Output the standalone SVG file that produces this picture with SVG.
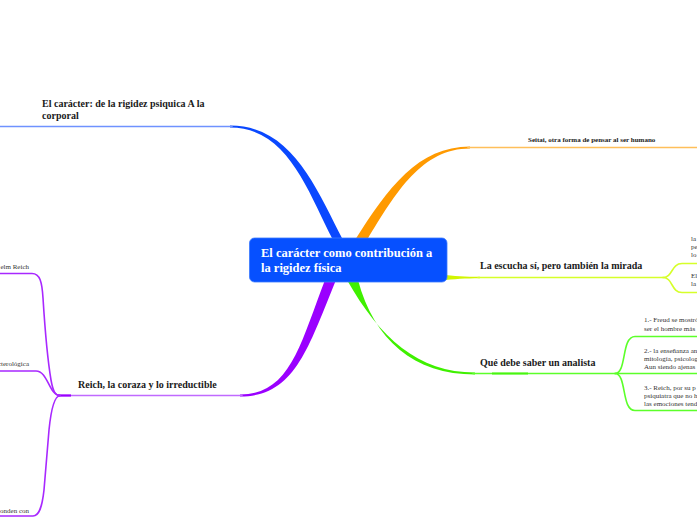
<svg xmlns="http://www.w3.org/2000/svg" width="697" height="520" viewBox="0 0 697 520">
<style>
.lbl{font-family:"Liberation Serif","Times New Roman",serif;font-weight:bold;font-size:10px;fill:#1a1a1a}
.sm{font-family:"Liberation Serif","Times New Roman",serif;font-size:7px;fill:#333}
.smb{font-family:"Liberation Serif","Times New Roman",serif;font-weight:bold;font-size:7px;fill:#1a1a1a}
.ctr{font-family:"Liberation Serif","Times New Roman",serif;font-weight:bold;font-size:12.5px;fill:#fff}
.thin{fill:none;stroke-width:1.6;stroke-linecap:round}
</style>
<rect width="697" height="520" fill="#fff"/>
<g id="connectors">
  <!-- blue -->
  <path d="M230 125.5 C292 125.5 316 188 343 240 L333 240 C308 192 288 127.5 230 127.5 Z" fill="#0a48ff"/>
  <path class="thin" d="M0 126.5 H232" stroke="#6f92ff"/>
  <!-- orange -->
  <path d="M470 146.5 C418 146.5 388 188 355 240 L367 240 C396 192 422 148.5 470 148.5 Z" fill="#ff9a00"/>
  <path class="thin" d="M468 147.5 H697" stroke="#ffbf5a"/>
  <!-- yellow -->
  <path d="M440 274.5 C455 276 465 276.8 480 276.8 L480 278.2 C465 278.2 455 279 440 280.5 Z" fill="#d2f500"/>
  <path class="thin" d="M478 277.5 H663" stroke="#d6ff2a"/>
  <path class="thin" d="M663 277.5 C673 277.5 671 263.5 682 263.5 H697" stroke="#d6ff2a"/>
  <path class="thin" d="M663 277.5 C673 277.5 671 292.5 682 292.5 H697" stroke="#d6ff2a"/>
  <!-- green -->
  <path d="M347 280 C380 338 418 372.5 475 372.5 L475 374.5 C414 374.5 374 340 358 280 Z" fill="#3ff000"/>
  <path class="thin" d="M473 373.5 H615" stroke="#5cff2a"/>
  <path d="M492 373.5 H528" stroke="#48f510" stroke-width="2"/>
  <path class="thin" d="M615 373.5 C627 373.5 621 336.5 635 336.5 H697" stroke="#5cff2a"/>
  <path class="thin" d="M615 373.5 H697" stroke="#5cff2a"/>
  <path class="thin" d="M615 373.5 C627 373.5 621 410.5 635 410.5 H697" stroke="#5cff2a"/>
  <!-- purple -->
  <path d="M325 280 C300 345 290 394.5 240 394.5 L240 396.5 C295 396.5 308 348 336 280 Z" fill="#9a00ff"/>
  <path class="thin" d="M242 395.5 H58" stroke="#c06aff"/>
  <path d="M58 395.5 H71" stroke="#9a00ff" stroke-width="2.2"/>
  <path class="thin" d="M0 273.5 H32 C40 273.5 42 282 43 298 C45 330 48 362 51 380 C53 391 55 395.5 60 395.5" stroke="#a828ff"/>
  <path class="thin" d="M0 371 H36 C48 371 49 395.5 60 395.5" stroke="#a828ff"/>
  <path class="thin" d="M60 395.5 C54 396 51 410 49 430 L44 490 C42 508 39 516 33 516 H0" stroke="#a828ff"/>
</g>
<g id="center">
  <rect x="249.5" y="238" width="197.5" height="44" rx="5" fill="#0650ff" stroke="#3a78ff" stroke-width="0.8"/>
  <text class="ctr" x="261" y="257">El carácter como contribución a</text>
  <text class="ctr" x="261" y="272">la rigidez física</text>
</g>
<g id="n-caracter">
  <text class="lbl" x="42" y="107">El carácter: de la rigidez psiquica A la</text>
  <text class="lbl" x="42" y="119">corporal</text>
</g>
<g id="n-seitai">
  <text class="smb" x="528" y="142">Seitai, otra forma de pensar al ser humano</text>
</g>
<g id="n-escucha">
  <text class="lbl" x="480" y="269">La escucha sí, pero también la mirada</text>
</g>
<g id="n-escucha-1">
  <text class="sm" x="691" y="241">la</text>
  <text class="sm" x="691" y="249">pe</text>
  <text class="sm" x="691" y="257">lo</text>
</g>
<g id="n-escucha-2">
  <text class="sm" x="691" y="278">El</text>
  <text class="sm" x="691" y="286">la</text>
</g>
<g id="n-analista">
  <text class="lbl" x="480" y="366">Qué debe saber un analista</text>
</g>
<g id="n-analista-1">
  <text class="sm" x="644" y="322">1.- Freud se mostró</text>
  <text class="sm" x="644" y="331">ser el hombre más</text>
</g>
<g id="n-analista-2">
  <text class="sm" x="644" y="353">2.- la enseñanza an</text>
  <text class="sm" x="644" y="361">mitología, psicolog</text>
  <text class="sm" x="644" y="369">Aun siendo ajenas</text>
</g>
<g id="n-analista-3">
  <text class="sm" x="644" y="390">3.- Reich, por su p</text>
  <text class="sm" x="644" y="398">psiquiatra que no h</text>
  <text class="sm" x="644" y="406">las emociones tend</text>
</g>
<g id="n-reich">
  <text class="lbl" x="78" y="388">Reich, la coraza y lo irreductible</text>
</g>
<g id="n-reich-1"><text class="sm" x="29" y="269" text-anchor="end">elm Reich</text></g>
<g id="n-reich-2"><text class="sm" x="29" y="366" text-anchor="end">cterológica</text></g>
<g id="n-reich-3"><text class="sm" x="29" y="513" text-anchor="end">onden con</text></g>
</svg>
